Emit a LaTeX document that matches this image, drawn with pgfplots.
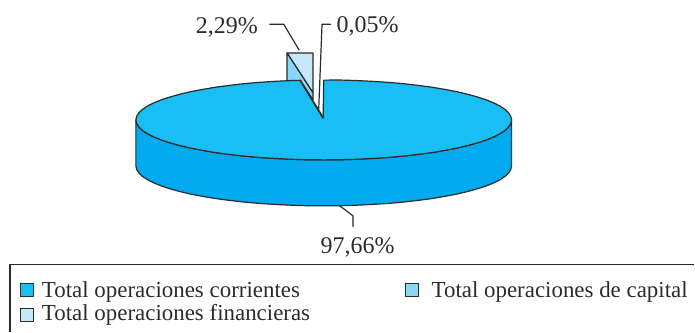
\documentclass[border=0pt]{standalone}
\usepackage{fontspec}
\setmainfont{Liberation Serif}
\usepackage{pgfplots}
\pgfplotsset{compat=1.18}
\definecolor{topblue}{HTML}{19BEF4}
\definecolor{sideblue}{HTML}{02ABEF}
\definecolor{capblue}{HTML}{87D7F9}
\definecolor{finblue}{HTML}{C6E8FA}
\definecolor{ink}{HTML}{2B2B2B}
\tikzset{lab/.style={text=ink, inner sep=0pt, outer sep=0pt, font=\fontsize{18}{20}\selectfont},
         leg/.style={text=ink, inner sep=0pt, outer sep=0pt, anchor=base west, font=\fontsize{17.2}{18}\selectfont}}
\begin{document}
\begin{tikzpicture}
\begin{axis}[
  scale only axis, width=521.25pt, height=249pt,
  xmin=0, xmax=695, ymin=0, ymax=332, y dir=reverse,
  axis lines=none, clip=false,
  every axis plot/.append style={line join=round, line cap=round, draw=ink, line width=0.9pt},
]
% keeps the full drawing area inside the page
\addplot[draw=none, line width=0pt] coordinates {(0,0)(695,0)(695,332)(0,332)(0,0)};
% side of the disc
\addplot[fill=sideblue] coordinates {
(136,120)(136.7,123.5)(138.9,126.9)(142.4,130.4)(147.3,133.7)(153.6,136.9)(161.2,140)(170,142.9)(180,145.7)(191.1,148.3)(203.2,150.6)(216.2,152.8)(230,154.6)(244.6,156.3)(259.7,157.6)(275.3,158.6)(291.4,159.4)(307.6,159.9)(324,160)(340.4,159.9)(356.6,159.4)(372.7,158.6)(388.3,157.6)(403.4,156.3)(418,154.6)(431.8,152.8)(444.8,150.6)(456.9,148.3)(468,145.7)(478,142.9)(486.8,140)(494.4,136.9)(500.7,133.7)(505.6,130.4)(509.1,126.9)(511.3,123.5)(512,120)
(512,166)(511.3,169.5)(509.1,172.9)(505.6,176.4)(500.7,179.7)(494.4,182.9)(486.8,186)(478,188.9)(468,191.7)(456.9,194.3)(444.8,196.6)(431.8,198.8)(418,200.6)(403.4,202.3)(388.3,203.6)(372.7,204.6)(356.6,205.4)(340.4,205.9)(324,206)(307.6,205.9)(291.4,205.4)(275.3,204.6)(259.7,203.6)(244.6,202.3)(230,200.6)(216.2,198.8)(203.2,196.6)(191.1,194.3)(180,191.7)(170,188.9)(161.2,186)(153.6,182.9)(147.3,179.7)(142.4,176.4)(138.9,172.9)(136.7,169.5)(136,166)(136,120)
};
% exploded slices behind the top face
\addplot[fill=finblue] coordinates {(287.3,53)(313.3,53)(313.3,93)(287.3,53)};
\addplot[fill=capblue] coordinates {(287.3,53)(313.3,93)(313.3,100)(302,83)(300,81)(287.3,81)(287.3,53)};
% top face of the main slice
\addplot[fill=topblue] coordinates {
(323.4,118)(324,80.2)(340.4,80.1)(356.6,80.6)(372.7,81.4)(388.3,82.4)(403.4,83.7)(418,85.4)(431.8,87.2)(444.8,89.4)(456.9,91.7)(468,94.3)(478,97.1)(486.8,100)(494.4,103.1)(500.7,106.3)(505.6,109.6)(509.1,113.1)(511.3,116.5)(512,120)
(511.3,123.5)(509.1,126.9)(505.6,130.4)(500.7,133.7)(494.4,136.9)(486.8,140)(478,142.9)(468,145.7)(456.9,148.3)(444.8,150.6)(431.8,152.8)(418,154.6)(403.4,156.3)(388.3,157.6)(372.7,158.6)(356.6,159.4)(340.4,159.9)(324,160)(307.6,159.9)(291.4,159.4)(275.3,158.6)(259.7,157.6)(244.6,156.3)(230,154.6)(216.2,152.8)(203.2,150.6)(191.1,148.3)(180,145.7)(170,142.9)(161.2,140)(153.6,136.9)(147.3,133.7)(142.4,130.4)(138.9,126.9)(136.7,123.5)(136,120)
(136.7,116.5)(138.9,113.1)(142.4,109.6)(147.3,106.3)(153.6,103.1)(161.2,100)(170,97.1)(180,94.3)(191.1,91.7)(203.2,89.4)(216.2,87.2)(230,85.4)(244.6,83.7)(259.7,82.4)(275.3,81.4)(291.4,80.6)(300.5,80.4)(323.4,118)
};
\addplot[line width=1.3pt] coordinates {(300.5,80.4)(323.4,118)};
% leader lines
\addplot[draw=ink] coordinates {(270,24.3)(284,24.3)(299.3,50)};
\addplot[draw=ink] coordinates {(330.7,24.3)(322.3,24.3)(319,109)};
\addplot[draw=ink] coordinates {(340,206)(353.3,216)(353.3,226.7)};
% legend frame, open at the right and at the bottom
\addplot[draw=ink, line cap=butt] coordinates {(10,332)(10,265)(695,265)};
% legend keys
\addplot[fill=topblue, line width=1pt] coordinates {(20.5,283.5)(33.5,283.5)(33.5,296.5)(20.5,296.5)(20.5,283.5)};
\addplot[fill=finblue, line width=1pt] coordinates {(20.5,308.5)(33.5,308.5)(33.5,321.5)(20.5,321.5)(20.5,308.5)};
\addplot[fill=capblue, line width=1pt] coordinates {(406,283.5)(419,283.5)(419,296.5)(406,296.5)(406,283.5)};
% text
\node[lab, anchor=base east] at (axis cs:258,34) {2,29\%};
\node[lab, anchor=base west] at (axis cs:337,33) {0,05\%};
\node[lab, anchor=base] at (axis cs:358,254) {97,66\%};
\node[leg] at (axis cs:42,298) {Total operaciones corrientes};
\node[leg] at (axis cs:42,321) {Total operaciones financieras};
\node[leg] at (axis cs:432,298) {Total operaciones de capital};
\end{axis}
\end{tikzpicture}
\end{document}
